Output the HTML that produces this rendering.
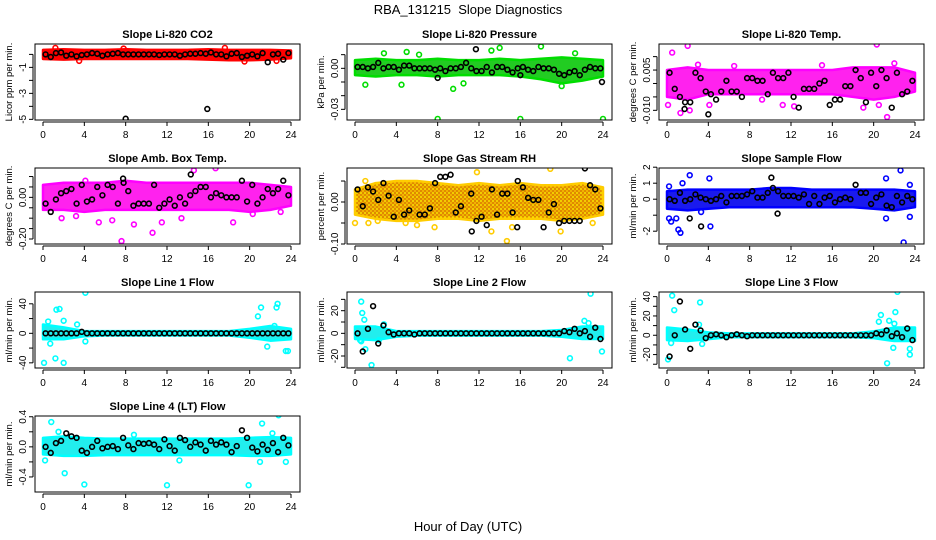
<!DOCTYPE html>
<html><head><meta charset="utf-8">
<style>
html,body{margin:0;padding:0;background:#fff;}
svg{display:block;font-family:"Liberation Sans",sans-serif;}
</style></head>
<body>
<svg id="chart" width="936" height="540" viewBox="0 0 936 540" xmlns="http://www.w3.org/2000/svg">
<defs>
<pattern id="rhpat" width="4" height="4" patternUnits="userSpaceOnUse">
<rect width="4" height="4" fill="#e08a00"/><circle cx="1" cy="1" r="0.9" fill="#ffff00"/><circle cx="3" cy="3" r="0.9" fill="#ffd000"/>
</pattern>
</defs>
<text x="468" y="14" text-anchor="middle" font-size="13">RBA_131215&#160; Slope Diagnostics</text>
<text x="468" y="531" text-anchor="middle" font-size="13">Hour of Day (UTC)</text>
</svg>
<script>
// ---- data ----
const hours = [0,4,8,12,16,20,24];
const bandHours = [0,2,4,6,8,10,12,14,16,18,20,22,24];

const co2Hi = [0.35,0.4,0.35,0.35,0.4,0.35,0.35,0.35,0.4,0.35,0.35,0.35,0.3];
const co2Lo = [-0.35,-0.4,-0.35,-0.35,-0.35,-0.35,-0.35,-0.35,-0.4,-0.45,-0.45,-0.4,-0.3];
const co2Black = [0,-0.2,0.1,0.15,-0.1,0,-0.15,-0.05,0,0.1,0.05,-0.1,0,0.05,0.1,0,0,0,0,0,0,0,-0.05,0,0,0,-0.1,0,0.05,0.05,0.1,0.05,0.15,0,0,-0.15,0.05,0.1,-0.2,-0.1,0,-0.15,0.1,-0.6,0,0.05,-0.4,0.1];
const co2BlackX = [8,15.9];
const co2BlackY = [-4.95,-4.2];
const co2OutX = [1.2,3.5,7.8,17.6,19.5,22.6];
const co2OutY = [0.5,-0.5,0.45,0.5,-0.55,-0.5];

const presHi = [0.006,0.007,0.006,0.006,0.007,0.006,0.006,0.007,0.006,0.007,0.008,0.007,0.006];
const presLo = [-0.005,-0.006,-0.005,-0.005,-0.006,-0.005,-0.005,-0.005,-0.006,-0.008,-0.011,-0.009,-0.006];
const presBlack = [0.001,0.001,0,0.001,0.004,0,0.001,0.001,-0.001,0.002,0.002,0,0,0,0,-0.001,0,-0.002,0,0,0.001,0.004,0,-0.002,-0.002,0.001,-0.003,0.001,0.001,-0.001,-0.003,0,0.001,-0.001,-0.002,0.001,0,0,-0.001,-0.004,-0.005,-0.003,-0.002,-0.005,-0.001,0.001,0,0];
const presBlackX = [23.9,8,16,11.7];
const presBlackY = [-0.01,-0.007,-0.005,0.014];
const presOutX = [8,16,24,18,14,5,4.5,9.5,1,13.2,10.5,20,21.3,2.8,6.2];
const presOutY = [-0.037,-0.037,-0.037,0.016,0.015,0.012,-0.012,-0.015,-0.012,0.013,-0.011,-0.013,0.011,0.011,0.01];

const tempHi = [0.005,0.006,0.005,0.005,0.005,0.005,0.005,0.005,0.005,0.006,0.006,0.006,0.004];
const tempLo = [-0.005,-0.006,-0.004,-0.004,-0.004,-0.004,-0.004,-0.004,-0.004,-0.005,-0.006,-0.005,-0.003];
const tempBlack = [0.004,-0.002,-0.005,-0.007,-0.007,0.004,0.002,-0.003,-0.004,-0.006,-0.003,0.001,-0.003,-0.003,-0.005,0.002,0.002,0.001,0.001,-0.004,0.004,0.002,0.002,0.004,-0.005,-0.009,-0.002,-0.002,-0.002,0,0.001,-0.008,-0.006,-0.006,-0.001,-0.001,0.005,0.002,-0.007,0.004,-0.001,0.005,0.002,-0.009,0.004,-0.004,-0.003,0.001];
const tempBlackX = [1.7,4];
const tempBlackY = [-0.0095,-0.0115];
const tempOutX = [0.5,2,20.3,21.3,1.3,2.2,19,22,0.1,3,6.5,15,11.2,12.3,9.2,4.1,20.5];
const tempOutY = [0.0115,0.014,0.0145,-0.0125,-0.011,-0.010,-0.009,0.0075,-0.008,0.007,0.0065,0.0068,-0.008,-0.0085,-0.006,-0.008,-0.008];

const ambHi = [0.06,0.07,0.07,0.07,0.08,0.07,0.07,0.07,0.07,0.07,0.07,0.06,0.05];
const ambLo = [-0.06,-0.06,-0.07,-0.06,-0.06,-0.06,-0.06,-0.06,-0.06,-0.06,-0.07,-0.06,-0.04];
const ambBlack = [-0.03,-0.07,-0.01,0.02,0.03,0.04,-0.03,0.06,-0.02,-0.01,0.05,0.01,0.06,0.05,-0.03,0.09,0.03,-0.04,-0.03,-0.03,-0.03,0.06,-0.05,-0.03,-0.01,-0.04,0,-0.03,0.01,0.03,0.05,0.05,0,0.02,0.01,0,0,0,0.08,-0.02,0.06,-0.03,0,0.04,0.02,0.04,0.08,0.01];
const ambBlackX = [14.3,7.8];
const ambBlackY = [0.11,0.07];
const ambOutX = [7.6,10.6,5.4,6.7,11.5,16.7,18.4,8.8,1.8,3.2,13.4,20.3,23.0,14.6,4.1];
const ambOutY = [-0.21,-0.17,-0.12,-0.11,-0.12,0.14,-0.12,-0.13,-0.1,-0.09,-0.1,-0.08,-0.07,0.13,0.08];

const rhHi = [0.03,0.045,0.05,0.05,0.045,0.04,0.045,0.04,0.045,0.04,0.04,0.045,0.035];
const rhLo = [-0.03,-0.04,-0.045,-0.045,-0.04,-0.04,-0.045,-0.04,-0.04,-0.04,-0.045,-0.04,-0.03];
const rhBlack = [0.03,-0.01,0.035,0.025,0.005,0.045,0.015,-0.035,0.005,-0.03,-0.02,0.09,-0.03,-0.03,-0.015,0.045,0.06,0.06,0.065,-0.025,-0.01,0.09,0.02,-0.045,-0.035,-0.055,0.03,-0.03,0.02,0.02,-0.025,0.05,0.035,0.01,0.005,0.005,-0.06,-0.025,-0.005,-0.05,-0.045,-0.045,-0.045,-0.045,0.08,0.04,0.03,-0.015];
const rhBlackX = [11.3,15.7];
const rhBlackY = [-0.07,-0.06];
const rhOutX = [7.7,13.2,14.7,18.9,11.8,19.9,0,1.3,2.2,4.9,15.2,23,6,1];
const rhOutY = [-0.06,-0.07,-0.093,0.079,0.071,-0.07,-0.05,-0.05,-0.045,-0.05,-0.06,-0.05,-0.055,0.05];

const sampHi = [0.5,0.6,0.6,0.6,0.6,0.7,0.7,0.6,0.6,0.6,0.6,0.6,0.5];
const sampLo = [-0.6,-0.7,-0.6,-0.5,-0.5,-0.5,-0.5,-0.5,-0.5,-0.5,-0.6,-0.7,-0.5];
const sampBlack = [0,-0.1,0.4,-0.1,0,0.3,0.1,0,-0.1,0,0.2,-0.2,0.2,0.2,0.2,0.3,0.5,0.1,0.1,0.4,0.7,0.5,0.2,0.2,0.2,0.1,0.3,-0.3,0.2,-0.3,0.1,0.2,-0.2,0,0.1,0,0.9,0.4,0.4,-0.3,0.1,0.3,-0.4,-0.5,0.2,-0.2,0.2,0];
const sampBlackX = [10.1,3.3,2.2,10.7];
const sampBlackY = [1.35,-1.7,-1.2,-0.9];
const sampOutX = [22.6,22.9,2.2,4.1,21.2,0.2,1.5,0.2,0.4,1.1,1.3,4.2,21.2,23.5,23.5,0.9,3.3];
const sampOutY = [1.8,-2.7,1.5,1.3,1.3,0.8,1,-1.2,-1.4,-1.9,-2.1,-1.7,-1.2,-1.1,0.9,-1.2,-0.8];

const l1Hi = [12,8,3,3,3,3,3,3,3,3,6,10,6];
const l1Lo = [-8,-8,-4,-3,-3,-3,-3,-3,-3,-3,-6,-10,-8];
const l1Black = [0,0,0,0,0,0,0,2,0,0,0,0,0,0,0,0,0,0,0,0,0,0,0,0,0,0,0,0,0,0,0,0,0,0,0,0,0,0,0,0,0,0,0,0,0,0,0,0];
const l1BlackX = [];
const l1BlackY = [];
const l1OutX = [0.1,2,4.1,1.3,1.6,1.2,0.7,2,3.3,4.1,21.1,20.8,22.6,22.7,21.7,23.5,23.7,0.5,22.4];
const l1OutY = [-40,-40,55,32,33,-34,-14,17,12,-11,35,23,35,40,-18,-24,-24,16,10];

const l2Hi = [6,6,2,2,2,2,2,2,2,2,3,6,6];
const l2Lo = [-5,-6,-3,-2,-2,-2,-2,-2,-2,-2,-3,-5,-5];
const l2Black = [0,-16,4,24,-9,7,1,-1,0,0,0,-1,0,0,0,0,0,0,0,0,0,0,0,0,0,0,0,0,0,0,0,0,0,0,0,0,0,0,0,0,2,1,4,0,2,-3,5,-5];
const l2BlackX = [];
const l2BlackY = [];
const l2OutX = [0.6,0.7,0.9,1,0.5,0.6,1.6,2.8,20.8,22.2,22.8,23.9,2.3,22.6];
const l2OutY = [28,18,12,-14,-6,-7,-28,8,-22,11,35,-16,-6,9];

const l3Hi = [8,6,3,2,2,2,2,2,2,2,4,8,8];
const l3Lo = [-5,-6,-4,-2,-2,-2,-2,-2,-2,-2,-3,-6,-6];
const l3Black = [-22,0,35,6,-14,11,5,-3,0,1,0,-2,0,1,0,-1,0,0,0,0,0,0,0,0,0,0,0,0,0,0,0,0,0,0,0,0,0,0,0,0,2,1,5,-1,2,-2,7,-5];
const l3BlackX = [];
const l3BlackY = [];
const l3OutX = [0.1,0.5,0.7,3.2,0.4,3.1,20.5,20.7,21.3,22.3,22.1,21.9,23.5,23.5,3.4,21.5,22];
const l3OutY = [-25,41,26,34,-8,11,14,21,-29,45,24,-13,-20,-14,-9,15,12];

const l4Hi = [0.12,0.14,0.12,0.11,0.11,0.11,0.11,0.11,0.11,0.11,0.12,0.13,0.12];
const l4Lo = [-0.1,-0.12,-0.12,-0.11,-0.11,-0.11,-0.11,-0.11,-0.11,-0.11,-0.12,-0.12,-0.1];
const l4Black = [0,-0.08,0.05,0.08,0.18,0.14,0.12,-0.05,-0.08,0,0.08,-0.02,0,0.01,-0.03,0.12,0.02,-0.03,0.05,0.04,0.05,0.03,-0.03,0.1,0.01,-0.05,0.12,0.09,0,0.06,0.03,-0.05,0.08,0.03,0.06,0.03,-0.07,0.01,0.22,0.12,-0.01,-0.06,0.03,-0.04,0.05,-0.07,0.12,0.02];
const l4BlackX = [];
const l4BlackY = [];
const l4OutX = [0.8,21.2,22.8,2.1,0.2,4,12,19.9,21,23.5,1.5,13.2,8.8,22.2];
const l4OutY = [0.33,0.31,0.42,-0.35,-0.18,-0.5,-0.51,-0.51,-0.2,-0.2,0.2,-0.18,0.16,0.18];

// ---- panels ----
const panels = [
 {name:'co2',title:'Slope Li-820 CO2',ylab:'Licor ppm per min.',r:0,c:0,ymax:0.8,ymin:-5.05,ticks:[0,-1,-2,-3,-4,-5],labs:{'-1':'-1','-3':'-3','-5':'-5'},col:'#ff0000',fill:'#ff0000',hi:co2Hi,lo:co2Lo,blk:co2Black,bx:co2BlackX,by:co2BlackY,ox:co2OutX,oy:co2OutY},
 {name:'pressure',title:'Slope Li-820 Pressure',ylab:'kPa per min.',r:0,c:1,ymax:0.0178,ymin:-0.0378,ticks:[0.01,0,-0.01,-0.02,-0.03],labs:{'0':'0.00','-0.03':'-0.03'},col:'#00dd00',fill:'#22cc22',hi:presHi,lo:presLo,blk:presBlack,bx:presBlackX,by:presBlackY,ox:presOutX,oy:presOutY},
 {name:'temp',title:'Slope Li-820 Temp.',ylab:'degrees C per min.',r:0,c:2,ymax:0.0147,ymin:-0.0136,ticks:[0.01,0.005,0,-0.005,-0.01],labs:{'0.005':'0.005','-0.01':'-0.010'},col:'#ff00ff',fill:'#ff22ee',hi:tempHi,lo:tempLo,blk:tempBlack,bx:tempBlackX,by:tempBlackY,ox:tempOutX,oy:tempOutY},
 {name:'amb-temp',title:'Slope Amb. Box Temp.',ylab:'degrees C per min.',r:1,c:0,ymax:0.141,ymin:-0.224,ticks:[0.1,0.05,0,-0.05,-0.1,-0.15,-0.2],labs:{'0':'0.00','-0.2':'-0.20'},col:'#ff00ff',fill:'#ff22ee',hi:ambHi,lo:ambLo,blk:ambBlack,bx:ambBlackX,by:ambBlackY,ox:ambOutX,oy:ambOutY},
 {name:'rh',title:'Slope Gas Stream RH',ylab:'percent per min.',r:1,c:1,ymax:0.081,ymin:-0.1,ticks:[0.05,0,-0.05,-0.1],labs:{'0':'0.00','-0.1':'-0.10'},col:'#ffcc00',fill:'url(#rhpat)',hi:rhHi,lo:rhLo,blk:rhBlack,bx:rhBlackX,by:rhBlackY,ox:rhOutX,oy:rhOutY},
 {name:'sample-flow',title:'Slope Sample Flow',ylab:'ml/min per min.',r:1,c:2,ymax:1.95,ymin:-2.8,ticks:[2,1,0,-1,-2],labs:{'2':'2','1':'1','0':'0','-2':'-2'},col:'#0000ff',fill:'#1a1aee',hi:sampHi,lo:sampLo,blk:sampBlack,bx:sampBlackX,by:sampBlackY,ox:sampOutX,oy:sampOutY},
 {name:'line1-flow',title:'Slope Line 1 Flow',ylab:'ml/min per min.',r:2,c:0,ymax:56,ymin:-47,ticks:[40,20,0,-20,-40],labs:{'40':'40','0':'0','-40':'-40'},col:'#00ffff',fill:'#22eeee',hi:l1Hi,lo:l1Lo,blk:l1Black,bx:l1BlackX,by:l1BlackY,ox:l1OutX,oy:l1OutY},
 {name:'line2-flow',title:'Slope Line 2 Flow',ylab:'ml/min per min.',r:2,c:1,ymax:36.5,ymin:-30.6,ticks:[30,20,10,0,-10,-20,-30],labs:{'20':'20','0':'0','-20':'-20'},col:'#00ffff',fill:'#22eeee',hi:l2Hi,lo:l2Lo,blk:l2Black,bx:l2BlackX,by:l2BlackY,ox:l2OutX,oy:l2OutY},
 {name:'line3-flow',title:'Slope Line 3 Flow',ylab:'ml/min per min.',r:2,c:2,ymax:44.8,ymin:-33.9,ticks:[40,30,20,10,0,-10,-20,-30],labs:{'40':'40','20':'20','0':'0','-20':'-20'},col:'#00ffff',fill:'#22eeee',hi:l3Hi,lo:l3Lo,blk:l3Black,bx:l3BlackX,by:l3BlackY,ox:l3OutX,oy:l3OutY},
 {name:'line4-flow',title:'Slope Line 4 (LT) Flow',ylab:'ml/min per min.',r:3,c:0,ymax:0.41,ymin:-0.6,ticks:[0.4,0.2,0,-0.2,-0.4],labs:{'0.4':'0.4','0':'0.0','-0.4':'-0.4'},col:'#00ffff',fill:'#22eeee',hi:l4Hi,lo:l4Lo,blk:l4Black,bx:l4BlackX,by:l4BlackY,ox:l4OutX,oy:l4OutY}
];

const NS='http://www.w3.org/2000/svg';
const svg=document.getElementById('chart');
function mk(tag,attrs,parent){const e=document.createElementNS(NS,tag);for(const k in attrs)e.setAttribute(k,attrs[k]);parent.appendChild(e);return e;}

panels.forEach(p=>{
  const L=35+312*p.c, T=44+124*p.r, W=265, H=76;
  const xs=h=>L+8+h*(248/24);
  const ys=v=>T+(p.ymax-v)/(p.ymax-p.ymin)*H;
  const g=mk('g',{},svg);
  
  
  const clip=mk('clipPath',{id:'clip-'+p.name},g);
  mk('rect',{x:L,y:T,width:W,height:H},clip);
  const pg=mk('g',{'clip-path':'url(#clip-'+p.name+')'},g);
  let pts=[];
  bandHours.forEach((h,i)=>pts.push(xs(h)+','+ys(p.hi[i])));
  for(let i=bandHours.length-1;i>=0;i--)pts.push(xs(bandHours[i])+','+ys(p.lo[i]));
  const band=mk('polygon',{points:pts.join(' '),fill:p.fill,stroke:p.col,'stroke-width':2.5,'stroke-linejoin':'round'},pg);
  
  
  p.ox.forEach((x,i)=>{
    const c=mk('circle',{cx:xs(x),cy:ys(p.oy[i]),r:2.4,fill:'none',stroke:p.col,'stroke-width':1.6},pg);
    
    
  });
  p.blk.forEach((v,i)=>{
    const c=mk('circle',{cx:xs(0.25+0.5*i),cy:ys(v),r:2.4,fill:'none',stroke:'#000','stroke-width':1.6},pg);
    
    
  });
  p.bx.forEach((x,i)=>{
    const c=mk('circle',{cx:xs(x),cy:ys(p.by[i]),r:2.4,fill:'none',stroke:'#000','stroke-width':1.6},pg);
    
    
  });
  const box=mk('rect',{x:L,y:T,width:W,height:H,fill:'none',stroke:'#000','stroke-width':1},g);
  
  
  const t=mk('text',{x:L+W/2,y:T-6,'text-anchor':'middle','font-size':11,'font-weight':'bold'},g);
  t.textContent=p.title;
  
  
  const xa=mk('g',{},g);
  
  
  mk('line',{x1:xs(0),x2:xs(24),y1:T+H+2,y2:T+H+2,stroke:'#000'},xa);
  hours.forEach(h=>{
    mk('line',{x1:xs(h),x2:xs(h),y1:T+H+2,y2:T+H+6,stroke:'#000'},xa);
    const tl=mk('text',{x:xs(h),y:T+H+18,'text-anchor':'middle','font-size':10},xa);
    tl.textContent=h;
  });
  const ya=mk('g',{},g);
  
  
  const tv=p.ticks;
  mk('line',{x1:L-2,x2:L-2,y1:ys(Math.max(...tv)),y2:ys(Math.min(...tv)),stroke:'#000'},ya);
  tv.forEach(v=>{
    const y=ys(v);
    mk('line',{x1:L-6,x2:L-2,y1:y,y2:y,stroke:'#000'},ya);
    const key=String(v);
    if(p.labs[key]!==undefined){
      const tl=mk('text',{x:L-9,y:y,'text-anchor':'middle','font-size':10,transform:'rotate(-90 '+(L-9)+' '+y+')'},ya);
      tl.textContent=p.labs[key];
    }
  });
  const yl=mk('text',{x:L-23,y:T+H/2,'text-anchor':'middle','font-size':9.5,transform:'rotate(-90 '+(L-23)+' '+(T+H/2)+')'},g);
  yl.textContent=p.ylab;
  
  
});
</script>
</body></html>
